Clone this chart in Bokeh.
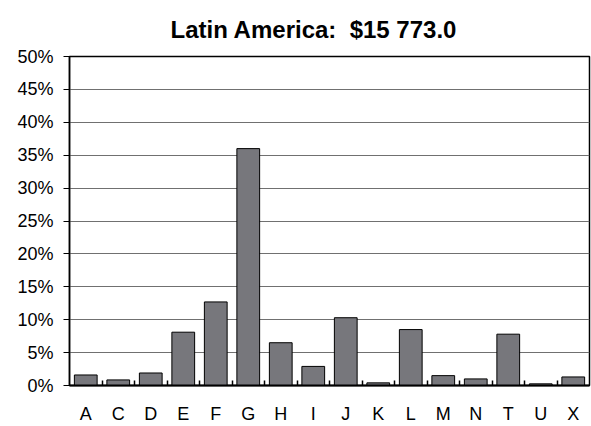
from bokeh.plotting import figure
from bokeh.models import FixedTicker, PrintfTickFormatter, Range1d
from bokeh.embed import file_html
from bokeh.resources import INLINE

# Share of the Latin America total by category (percent)
categories = ["A", "C", "D", "E", "F", "G", "H", "I", "J", "K", "L", "M", "N", "T", "U", "X"]
shares = [1.6, 0.85, 1.9, 8.1, 12.7, 36.0, 6.5, 2.9, 10.3, 0.4, 8.5, 1.5, 1.0, 7.8, 0.25, 1.3]
y_ticks = [0, 5, 10, 15, 20, 25, 30, 35, 40, 45, 50]
title_text = "Latin America:\u00a0\u00a0$15\u00a0773.0"

xs = list(range(len(categories)))

p = figure(
    width=591, height=426,
    output_backend="svg", toolbar_location=None,
    x_range=Range1d(-0.5, len(categories) - 0.5),
    y_range=Range1d(0, 50),
    min_border_left=69, min_border_right=2,
    min_border_top=56, min_border_bottom=40,
)

p.title.text = title_text
p.title.align = "left"
p.title.offset = 101
p.title.standoff = 27
p.title.text_font = "Liberation Sans"
p.title.text_font_size = "24px"
p.title.text_font_style = "bold"
p.title.text_color = "black"

p.vbar(x=xs, top=shares, width=0.7, bottom=0,
       fill_color="#77777c", line_color="black", line_width=1)

# y axis: percent ticks, ticks pointing outwards
p.yaxis.ticker = FixedTicker(ticks=y_ticks)
p.yaxis.formatter = PrintfTickFormatter(format="%d%%")
p.yaxis.major_tick_out = 6
p.yaxis.major_tick_in = 0
p.yaxis.minor_tick_out = 0
p.yaxis.minor_tick_in = 0
p.yaxis.axis_line_color = "black"
p.yaxis.axis_line_width = 1.5
p.yaxis.major_tick_line_color = "black"
p.yaxis.major_label_text_font = "Liberation Sans"
p.yaxis.major_label_text_font_size = "18px"
p.yaxis.major_label_text_color = "black"
p.yaxis.major_label_standoff = 10

# x axis: letters at bar centres, small inward ticks between bars
p.xaxis.ticker = FixedTicker(ticks=xs, minor_ticks=[i + 0.5 for i in xs[:-1]])
p.xaxis.major_label_overrides = {i: c for i, c in zip(xs, categories)}
p.xaxis.major_tick_out = 0
p.xaxis.major_tick_in = 0
p.xaxis.minor_tick_in = 5
p.xaxis.minor_tick_out = 0
p.xaxis.minor_tick_line_color = "black"
p.xaxis.minor_tick_line_width = 1.5
p.xaxis.axis_line_color = "black"
p.xaxis.axis_line_width = 2
p.xaxis.major_label_text_font = "Liberation Sans"
p.xaxis.major_label_text_font_size = "18px"
p.xaxis.major_label_text_color = "black"
p.xaxis.major_label_standoff = 18

p.xgrid.grid_line_color = None
p.ygrid.grid_line_color = "#707070"
p.ygrid.grid_line_width = 1.2

p.outline_line_color = "black"
p.outline_line_width = 1.5
p.background_fill_color = "white"
p.border_fill_color = "white"

open("out.html", "w").write(file_html(p, INLINE))
